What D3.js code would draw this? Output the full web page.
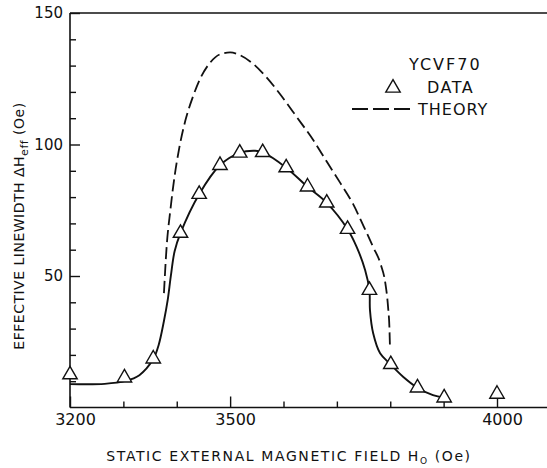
<!DOCTYPE html>
<html>
<head>
<meta charset="utf-8">
<script src="https://cdn.jsdelivr.net/npm/d3@7"></script>
<style>
  html, body { margin: 0; padding: 0; background: #fff; }
  svg { display: block; }
  text { font-family: "DejaVu Sans", sans-serif; fill: #111; }
</style>
</head>
<body>
<svg id="chart" width="547" height="468"></svg>
<script>
// ---- data ----
const xMinorTicks = [3300, 3400, 3600, 3700, 3800, 3900];
const xMajorTicks = [3200, 3500, 4000];
const yMinorTicks = [10, 20, 30, 40, 60, 70, 80, 90, 110, 120, 130, 140];
const yMajorTicks = [50, 100, 150];

// measured data (triangles)
const dataField = [3200, 3302, 3356, 3407, 3442, 3481, 3518, 3561, 3605, 3645, 3681, 3720, 3761, 3801, 3851, 3901, 4000];
const dataWidth = [12.5, 11.3, 18.5, 66.3, 81.1, 92.1, 96.8, 97.0, 91.2, 83.9, 77.8, 67.8, 44.6, 16.4, 7.5, 3.7, 5.1];

// solid curve drawn through the data
const fitField = [3200, 3265, 3304, 3330, 3356, 3366, 3376, 3383, 3389, 3396, 3407, 3442, 3481, 3518, 3547, 3561, 3605, 3645, 3681, 3720, 3737, 3753, 3761, 3762, 3768, 3781, 3800, 3824, 3851, 3880, 3901];
const fitWidth = [8.9, 9.0, 10.1, 12.3, 18.4, 23.7, 32.9, 40.8, 50.1, 59.4, 66.3, 81.1, 92.1, 96.8, 97.6, 97.0, 91.2, 83.9, 77.8, 67.8, 61.1, 52.2, 44.6, 37.0, 28.2, 20.6, 16.5, 11.7, 7.5, 4.7, 3.7];

// theory (dashed)
const theoryField = [3376, 3381, 3388, 3396, 3405, 3416, 3430, 3445, 3462, 3481, 3500, 3518, 3543, 3568, 3593, 3625, 3656, 3681, 3706, 3730, 3750, 3768, 3782, 3791, 3796, 3798.5, 3799.5];
const theoryWidth = [43.5, 61.0, 75.0, 88.0, 99.0, 109.0, 118.0, 125.5, 131.0, 134.3, 135.0, 134.0, 130.7, 125.6, 119.3, 110.4, 101.6, 93.5, 85.5, 77.5, 69.0, 61.0, 54.5, 47.0, 38.0, 30.0, 22.6];

const legendTitle = "YCVF70";
const legendData = "DATA";
const legendTheory = "THEORY";

// ---- scales ----
const svg = d3.select("#chart");
const x = d3.scaleLinear().domain([3200, 4000]).range([70, 497]);
const y = d3.scaleLinear().domain([0, 150]).range([407.5, 13]);
const rightEdge = 547;

const ink = "#111";

// frame lines: bottom axis, left axis, top border
svg.append("line").attr("x1", x(3200)).attr("x2", rightEdge).attr("y1", y(0)).attr("y2", y(0))
  .attr("stroke", ink).attr("stroke-width", 1.6);
svg.append("line").attr("x1", x(3200)).attr("x2", x(3200)).attr("y1", y(0)).attr("y2", y(150))
  .attr("stroke", ink).attr("stroke-width", 1.6);
svg.append("line").attr("x1", x(3200)).attr("x2", rightEdge).attr("y1", y(150)).attr("y2", y(150))
  .attr("stroke", ink).attr("stroke-width", 1.6);

// x axis ticks
const gx = svg.append("g").attr("transform", `translate(0,${y(0)})`);
gx.append("g").call(d3.axisBottom(x).tickValues(xMinorTicks).tickSize(-6).tickFormat(""))
  .call(g => g.select(".domain").remove());
gx.append("g").call(d3.axisBottom(x).tickValues(xMajorTicks).tickSize(-11).tickPadding(6).tickFormat(d3.format("d")))
  .call(g => g.select(".domain").remove())
  .call(g => g.selectAll("text").attr("dx", 5).style("font-size", "16px").style("font-family", "DejaVu Sans").attr("fill", ink));
gx.selectAll("line").attr("stroke", ink).attr("stroke-width", 1.4);

// y axis ticks
const gy = svg.append("g").attr("transform", `translate(${x(3200)},0)`);
gy.append("g").call(d3.axisLeft(y).tickValues(yMinorTicks).tickSize(-6).tickFormat(""))
  .call(g => g.select(".domain").remove());
gy.append("g").call(d3.axisLeft(y).tickValues(yMajorTicks).tickSize(-10).tickPadding(7).tickFormat(d3.format("d")))
  .call(g => g.select(".domain").remove())
  .call(g => g.selectAll("text").style("font-size", "15px").style("font-family", "DejaVu Sans").attr("fill", ink));
gy.selectAll("line").attr("stroke", ink).attr("stroke-width", 1.4);

// curves
const theoryPts = theoryField.map((f, i) => [f, theoryWidth[i]]);
const fitPts = fitField.map((f, i) => [f, fitWidth[i]]);
const theoryLine = d3.line().x(d => x(d[0])).y(d => y(d[1])).curve(d3.curveMonotoneX);
const fitLine = d3.line().x(d => x(d[0])).y(d => y(d[1])).curve(d3.curveCatmullRom.alpha(0.5));

svg.append("path").attr("d", theoryLine(theoryPts)).attr("fill", "none")
  .attr("stroke", ink).attr("stroke-width", 1.8).attr("stroke-dasharray", "12,5");

svg.append("path").attr("d", fitLine(fitPts)).attr("fill", "none")
  .attr("stroke", ink).attr("stroke-width", 1.9);

// triangles
const tri = d3.symbol(d3.symbolTriangle, 90);
svg.append("g").selectAll("path").data(dataField.map((f, i) => [f, dataWidth[i]])).join("path")
  .attr("d", tri)
  .attr("transform", d => `translate(${x(d[0])},${y(d[1])})`)
  .attr("fill", "#fff").attr("stroke", ink).attr("stroke-width", 1.4);

// legend
const lg = svg.append("g");
lg.append("text").attr("x", 409).attr("y", 70).style("font-size", "16px").style("letter-spacing", "2px").text(legendTitle);
lg.append("path").attr("d", tri).attr("transform", "translate(393,88)")
  .attr("fill", "#fff").attr("stroke", ink).attr("stroke-width", 1.4);
lg.append("text").attr("x", 427).attr("y", 93).style("font-size", "16px").style("letter-spacing", "1.5px").text(legendData);
lg.append("line").attr("x1", 352).attr("x2", 410).attr("y1", 109).attr("y2", 109)
  .attr("stroke", ink).attr("stroke-width", 1.8).attr("stroke-dasharray", "16,5");
lg.append("text").attr("x", 418).attr("y", 115).style("font-size", "16px").style("letter-spacing", "1px").text(legendTheory);

// x axis title
const xt = svg.append("text").attr("x", 289).attr("y", 461).attr("text-anchor", "middle")
  .style("font-size", "14px").style("letter-spacing", "1.6px");
xt.append("tspan").text("STATIC EXTERNAL MAGNETIC FIELD H");
xt.append("tspan").attr("dy", 3).style("font-size", "9px").text("O");
xt.append("tspan").attr("dy", -3).text(" (Oe)");

// y axis title
const yt = svg.append("text").attr("transform", "translate(24,226) rotate(-90)").attr("text-anchor", "middle")
  .style("font-size", "14px").style("letter-spacing", "0.5px");
yt.append("tspan").text("EFFECTIVE LINEWIDTH \u0394H");
yt.append("tspan").attr("dy", 4).style("font-size", "11px").text("eff");
yt.append("tspan").attr("dy", -4).text(" (Oe)");
</script>
</body>
</html>
